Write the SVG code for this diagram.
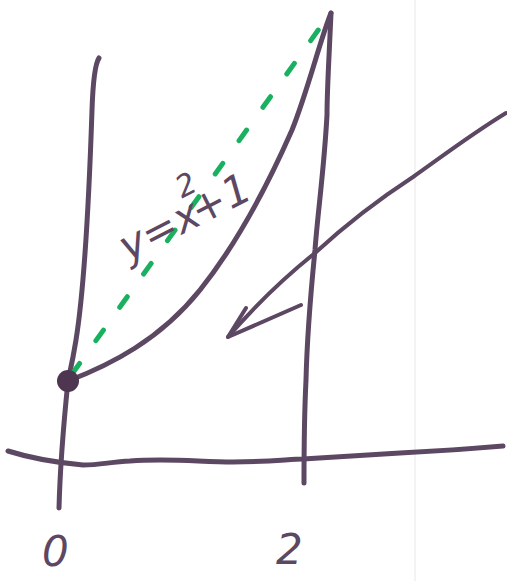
<svg xmlns="http://www.w3.org/2000/svg" width="507" height="581" viewBox="0 0 507 581">
<style>
.ink{fill:none;stroke:#5c4862;stroke-width:5;stroke-linecap:round;stroke-linejoin:round}
.thin{stroke-width:4}
.lbl{font-family:"DejaVu Sans","Liberation Sans",sans-serif;fill:#5c4862;font-style:italic}
.dash{fill:none;stroke:#19b060;stroke-width:5;stroke-linecap:round;stroke-dasharray:13 28}
</style>
<rect width="507" height="581" fill="#ffffff"/>
<line x1="415" y1="0" x2="415" y2="581" stroke="#efefef" stroke-width="1.5"/>
<g id="connectors">
<path id="y-axis" class="ink" d="M99 58 C95 64 93 80 92 110 C89 200 84 290 76 340 C72 365 69 375 68 381 C64 420 60 470 59 508"/>
<path id="x-axis" class="ink" d="M8 451 C30 458 50 462 83 465 C100 465 110 462 130 461 C170 458 200 462 233 462 C270 462 290 459 303 459 C340 457 370 455 400 453 C440 451 480 448 503 446"/>
<path id="x2-line" class="ink" d="M331 13 C329 60 327 90 327 115 C324 170 318 210 315 250 C310 300 307 340 306 380 C304 420 304 455 304 483"/>
<path id="curve" class="ink" d="M68 381 C110 365 160 340 200 290 C240 240 270 180 292 130 C308 90 320 40 331 13"/>
<line id="tangent" class="dash" x1="72" y1="374" x2="324" y2="22"/>
<path id="arrow" class="ink thin" d="M506 113 C470 135 440 158 413 177 C370 205 340 230 315 253 C290 273 260 300 228 337"/>
<path id="arrowhead" class="ink thin" d="M246 308 L228 337 L301 305"/>
</g>
<g id="point">
<circle cx="68" cy="381" r="11" fill="#4e3550"/>
</g>
<g id="equation">
<text class="lbl" font-size="42" transform="translate(128 262) rotate(-27)">y=x<tspan font-size="30" dy="-32" dx="-8">2</tspan><tspan dy="32" dx="-16">+1</tspan></text>
</g>
<g id="label-0">
<text class="lbl" x="42" y="566" font-size="42">0</text>
</g>
<g id="label-2">
<text class="lbl" x="276" y="564" font-size="42">2</text>
</g>
</svg>
